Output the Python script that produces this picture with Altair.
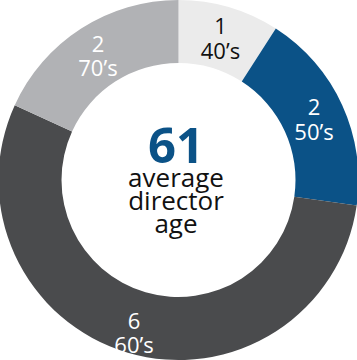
import altair as alt
import pandas as pd

decades = ["40’s", "50’s", "60’s", "70’s"]
counts = [1, 2, 6, 2]
colors = ["#ebebeb", "#0b5287", "#4a4b4d", "#b1b2b5"]
label_colors = ["#111111", "#ffffff", "#ffffff", "#ffffff"]
avg_age = "61"
center_label = "average\ndirector\nage"

df = pd.DataFrame({
    "decade": decades,
    "count": counts,
    "order": list(range(len(decades))),
    "label": [f"{c}\n{d}" for c, d in zip(counts, decades)],
    "lcolor": label_colors,
})

arcs = alt.Chart(df).mark_arc(outerRadius=180, innerRadius=117, stroke=None).encode(
    theta=alt.Theta("count:Q", stack=True),
    order=alt.Order("order:Q"),
    color=alt.Color("decade:N", scale=alt.Scale(domain=decades, range=colors), legend=None),
)

labels = alt.Chart(df).transform_stack(
    stack="count", as_=["s0", "s1"], groupby=[], sort=[alt.SortField("order", order="ascending")]
).transform_joinaggregate(
    total="sum(count)"
).transform_calculate(
    mid="(datum.s0 + datum.s1) / 2 / datum.total",
    lr="datum.decade == '60’s' ? 158 : 149",
).mark_text(font="Open Sans", fontSize=22, lineHeight=24.5,
            lineBreak="\n", baseline="alphabetic", align="center", dy=-3).encode(
    theta=alt.Theta("mid:Q", scale=alt.Scale(domain=[0, 1]), stack=None),
    radius=alt.Radius("lr:Q", scale=None),
    text="label:N",
    color=alt.Color("lcolor:N", scale=None),
)

center_num = alt.Chart(pd.DataFrame({"t": [avg_age]})).mark_text(
    font="Open Sans", fontSize=49, fontWeight="bold", color="#0b5287",
    baseline="alphabetic", align="center"
).encode(text="t:N", x=alt.value(176), y=alt.value(163))

center_txt = alt.Chart(pd.DataFrame({"t": [center_label]})).mark_text(
    font="Open Sans", fontSize=26, lineHeight=23, lineBreak="\n", color="#111111",
    baseline="alphabetic", align="center"
).encode(text="t:N", x=alt.value(176), y=alt.value(187))

chart = alt.layer(arcs, labels, center_num, center_txt).resolve_scale(
    theta="independent"
).properties(
    width=357, height=360, padding=0, autosize=alt.AutoSizeParams(type="none")
).configure_view(stroke=None)

chart.save("out.html", embed_options={"renderer": "svg", "actions": False})
